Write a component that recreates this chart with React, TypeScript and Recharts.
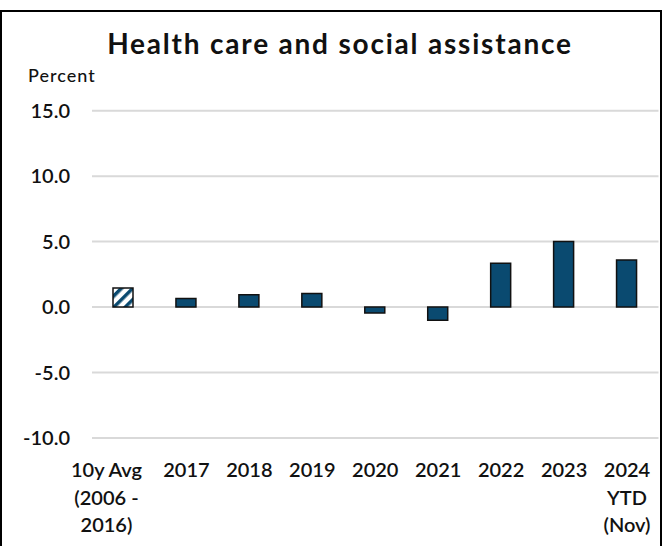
import React from "react";
import { BarChart, Bar, XAxis, YAxis, CartesianGrid, Cell } from "recharts";

const categories = ["10y Avg|(2006 -|2016)", "2017", "2018", "2019", "2020", "2021", "2022", "2023", "2024|YTD|(Nov)"];
const growth = [1.45, 0.65, 0.95, 1.03, -0.45, -1.0, 3.35, 5.0, 3.6];
const yTicks = [-10, -5, 0, 5, 10, 15];
const titleText = "Health care and social assistance";
const unitLabel = "Percent";

const data = categories.map((c, i) => ({ name: c, value: growth[i] }));

const FONT = "Lato, 'Open Sans', sans-serif";
const BAR_FILL = "#0a4a70";

const XTick = (props: any) => {
  const { x, y, payload, index } = props;
  const lines = String(payload.value).split("|");
  const dx = index === 0 ? -17 : 0;
  return (
    <g>
      {lines.map((l: string, i: number) => (
        <text
          key={i}
          x={x + dx}
          y={y + 39 + i * 27.5}
          textAnchor="middle"
          fontFamily={FONT}
          fontSize={20}
          fontWeight={600}
          fill="#111"
        >
          {l}
        </text>
      ))}
    </g>
  );
};

export default function App() {
  return (
    <div style={{ position: "absolute", left: 0, top: 0, width: 665, height: 546, background: "#fff", overflow: "hidden" }}>
      <div
        style={{
          position: "absolute",
          left: 0,
          top: 10,
          width: 662,
          height: 560,
          border: "2px solid #000",
          boxSizing: "border-box",
        }}
      />
      <div
        style={{
          position: "absolute",
          left: 0,
          width: 680,
          top: 25,
          textAlign: "center",
          fontFamily: FONT,
          fontWeight: 700,
          fontSize: 28,
          letterSpacing: 1.8,
          color: "#111",
          lineHeight: "36px",
        }}
      >
        {titleText}
      </div>
      <div
        style={{
          position: "absolute",
          left: 28,
          top: 64,
          fontFamily: FONT,
          fontWeight: 500,
          fontSize: 18,
          letterSpacing: 1,
          color: "#111",
          lineHeight: "22px",
        }}
      >
        {unitLabel}
      </div>
      <div style={{ position: "absolute", left: 0, top: 0 }}>
        <BarChart
          width={665}
          height={546}
          data={data}
          margin={{ top: 110.7, right: 6.5, bottom: 78, left: 0 }}
        >
          <defs>
            <pattern id="hatch" patternUnits="userSpaceOnUse" width="8" height="8" patternTransform="rotate(45)">
              <rect width="8" height="8" fill="#fff" />
              <rect width="3.5" height="8" fill={BAR_FILL} />
            </pattern>
          </defs>
          <CartesianGrid vertical={false} stroke="#d9d9d9" strokeWidth={2} />
          <XAxis
            dataKey="name"
            axisLine={false}
            tickLine={false}
            tickSize={0}
            tickMargin={0}
            height={30}
            interval={0}
            tick={<XTick />}
          />
          <YAxis
            domain={[-10, 15]}
            ticks={yTicks}
            width={92}
            axisLine={false}
            tickLine={false}
            tickSize={0}
            tickMargin={22}
            tickFormatter={(v: number) => v.toFixed(1)}
            tick={{ fontFamily: FONT, fontSize: 20, fontWeight: 600, fill: "#111" }}
          />
          <Bar dataKey="value" barSize={20} stroke="#111" strokeWidth={1.5} fill={BAR_FILL} isAnimationActive={false}>
            {data.map((d, i) => (
              <Cell key={i} fill={i === 0 ? "url(#hatch)" : BAR_FILL} />
            ))}
          </Bar>
        </BarChart>
      </div>
    </div>
  );
}
